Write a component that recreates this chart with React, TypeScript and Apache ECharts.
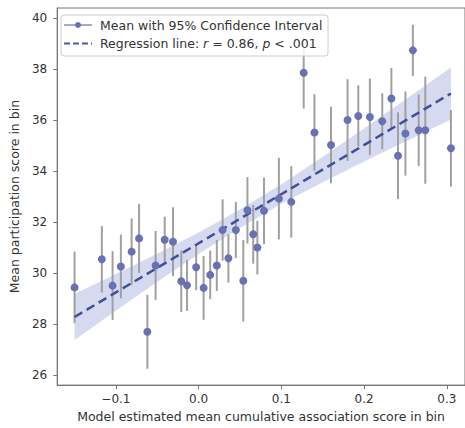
import React, { useEffect, useRef } from "react";
import * as echarts from "echarts";

// Bin means (x, y) with 95% CI half-widths
const binX = [-0.150, -0.117, -0.104, -0.094, -0.081, -0.072, -0.062, -0.052, -0.041, -0.031,
  -0.021, -0.014, -0.003, 0.006, 0.014, 0.022, 0.029, 0.036, 0.045, 0.054,
  0.059, 0.066, 0.071, 0.079, 0.097, 0.112, 0.127, 0.140, 0.160, 0.180,
  0.193, 0.207, 0.222, 0.233, 0.241, 0.250, 0.259, 0.266, 0.274, 0.305];
const binY = [29.44, 30.54, 29.51, 30.26, 30.84, 31.36, 27.70, 30.30, 31.31, 31.23,
  29.68, 29.52, 30.23, 29.42, 29.93, 30.30, 31.69, 30.58, 31.69, 29.70,
  32.46, 31.52, 31.00, 32.44, 32.92, 32.79, 37.85, 35.51, 35.02, 36.00,
  36.16, 36.12, 35.95, 36.84, 34.60, 35.47, 38.73, 35.60, 35.60, 34.89];
const binErr = [1.4, 1.3, 1.35, 1.25, 1.3, 1.35, 1.45, 1.35, 0.9, 1.35,
  1.2, 1.0, 0.9, 1.25, 0.95, 1.0, 1.2, 0.95, 1.1, 1.6,
  1.3, 1.15, 1.05, 1.3, 1.6, 1.4, 1.4, 1.5, 1.5, 1.6,
  1.2, 1.5, 1.1, 1.2, 1.7, 1.65, 1.0, 1.4, 2.1, 1.5];

// Regression line end points
const regX = [-0.15, 0.305];
const regY = [28.28, 37.04];

// Confidence band of the regression
const bandX = [-0.15, -0.1, -0.05, 0, 0.05, 0.1, 0.15, 0.2, 0.25, 0.305];
const bandLo = [27.38, 28.52, 29.66, 30.75, 31.77, 32.72, 33.56, 34.37, 35.16, 36.02];
const bandHi = [29.18, 29.96, 30.76, 31.59, 32.49, 33.48, 34.56, 35.67, 36.80, 38.06];

const xTicks = [-0.1, 0, 0.1, 0.2, 0.3];
const xTickLabels = ["\u22120.1", "0.0", "0.1", "0.2", "0.3"];
const yTicks = [26, 28, 30, 32, 34, 36, 38, 40];

const legendMean = "Mean with 95% Confidence Interval";
const legendReg = "Regression line: {i|r} = 0.86, {i|p} < .001";

const FONT = "DejaVu Sans";
const AXIS = "#777";

export default function App() {
  const ref = useRef<HTMLDivElement>(null);
  useEffect(() => {
    document.body.style.margin = "0";
    const chart = echarts.init(ref.current!, undefined, { renderer: "svg" });
    const bandPts = bandX.map((x, i) => [x, bandHi[i]]).concat(
      bandX.map((x, i) => [x, bandLo[i]]).reverse()
    );
    chart.setOption({
      animation: false,
      backgroundColor: "#fff",
      textStyle: { fontFamily: FONT },
      grid: {
        left: 55, top: 8, right: -3, bottom: 41,
        show: true, borderColor: AXIS, borderWidth: 1, backgroundColor: "transparent",
      },
      xAxis: {
        type: "value", min: -0.171, max: 0.322,
        name: "Model estimated mean cumulative association score in bin",
        nameLocation: "middle", nameGap: 22,
        nameTextStyle: { fontSize: 12.5, color: "#333", fontFamily: FONT },
        axisLine: { show: true, onZero: false, lineStyle: { color: AXIS } },
        axisTick: { show: true, length: 4, lineStyle: { color: AXIS }, customValues: xTicks },
        axisLabel: {
          fontSize: 12, color: "#333", margin: 8, customValues: xTicks,
          formatter: (v: number) => {
            const idx = xTicks.findIndex((t) => Math.abs(t - v) < 1e-9);
            return idx >= 0 ? xTickLabels[idx] : "";
          },
        },
        splitLine: { show: false },
      },
      yAxis: {
        type: "value", min: 25.61, max: 40.39,
        name: "Mean participation score in bin",
        nameLocation: "middle", nameGap: 32,
        nameTextStyle: { fontSize: 12.5, color: "#333", fontFamily: FONT },
        axisLine: { show: true, onZero: false, lineStyle: { color: AXIS } },
        axisTick: { show: true, length: 4, lineStyle: { color: AXIS }, customValues: yTicks },
        axisLabel: {
          fontSize: 12, color: "#333", margin: 10, customValues: yTicks,
          formatter: (v: number) => String(Math.round(v)),
        },
        splitLine: { show: false },
      },
      graphic: [
        { type: "rect", z: 100, shape: { x: 61, y: 15, width: 267, height: 41, r: 3 },
          style: { fill: "rgba(255,255,255,0.85)", stroke: "#cccccc", lineWidth: 1 } },
        { type: "line", z: 101, shape: { x1: 64, y1: 25, x2: 92, y2: 25 },
          style: { stroke: "#8a8fb8", lineWidth: 1.5 } },
        { type: "circle", z: 102, shape: { cx: 78, cy: 25, r: 3 }, style: { fill: "#6872b3" } },
        { type: "line", z: 101, shape: { x1: 64, y1: 43.5, x2: 92, y2: 43.5 },
          style: { stroke: "#4a59a0", lineWidth: 2, lineDash: [6, 3] } },
        { type: "text", z: 101, x: 100, y: 25,
          style: { text: legendMean, fontSize: 12.5, fontFamily: FONT, fill: "#333", verticalAlign: "middle" } },
        { type: "text", z: 101, x: 100, y: 43.5,
          style: {
            text: legendReg, fontSize: 12.5, fontFamily: FONT, fill: "#333", verticalAlign: "middle",
            rich: { i: { fontStyle: "italic", fontSize: 12.5, fontFamily: FONT, fill: "#333" } },
          } },
      ],
      series: [
        {
          type: "custom", name: "band", z: 1, silent: true,
          data: [[bandX[0], bandLo[0]]],
          renderItem: (_p: any, api: any) => ({
            type: "polygon",
            shape: { points: bandPts.map((pt) => api.coord(pt)) },
            style: { fill: "rgba(180,188,228,0.55)" },
          }),
        },
        {
          type: "custom", name: "ci", z: 2, silent: true,
          encode: { x: 0, y: [1, 2] },
          data: binX.map((x, i) => [x, binY[i] - binErr[i], binY[i] + binErr[i]]),
          renderItem: (_p: any, api: any) => {
            const a = api.coord([api.value(0), api.value(1)]);
            const b = api.coord([api.value(0), api.value(2)]);
            return {
              type: "line",
              shape: { x1: a[0], y1: a[1], x2: b[0], y2: b[1] },
              style: { stroke: "#a0a0a0", lineWidth: 2 },
            };
          },
        },
        {
          type: "line", name: "reg", z: 3, silent: true, showSymbol: false,
          data: regX.map((x, i) => [x, regY[i]]),
          lineStyle: { color: "#3f4f9c", width: 2.5, type: [9, 5] },
        },
        {
          type: "scatter", name: "mean", z: 4, silent: true,
          symbolSize: 8,
          data: binX.map((x, i) => [x, binY[i]]),
          itemStyle: { color: "#6872b3", opacity: 1 },
        },
      ],
    });
    return () => chart.dispose();
  }, []);
  return <div ref={ref} style={{ width: 465, height: 428 }} />;
}
